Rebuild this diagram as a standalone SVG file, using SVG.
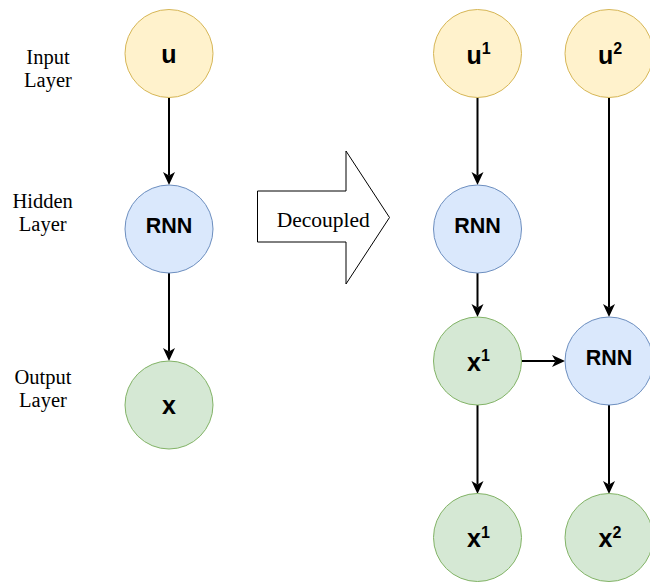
<svg xmlns="http://www.w3.org/2000/svg" width="650" height="584" viewBox="0 0 650 584">
  <style>
    .in { fill: #fff2cc; stroke: #d6b656; stroke-width: 1; }
    .hid { fill: #dae8fc; stroke: #6c8ebf; stroke-width: 1; }
    .out { fill: #d5e8d4; stroke: #82b366; stroke-width: 1; }
    .lbl { font-family: "Liberation Sans", Arial, sans-serif; font-weight: bold; fill: #000; text-anchor: middle; }
    .var { font-size: 25px; }
    .rnn { font-size: 21.5px; }
    .sup { font-size: 16px; }
    .side { font-family: "Liberation Serif", "Times New Roman", serif; font-size: 20.5px; fill: #000; text-anchor: middle; }
    .edge { stroke: #000; stroke-width: 2; fill: none; marker-end: url(#arrow); }
  </style>
  <defs>
    <marker id="arrow" markerUnits="userSpaceOnUse" markerWidth="14" markerHeight="12" refX="3.5" refY="6" orient="auto" overflow="visible">
      <path d="M0,0 L13,6 L0,12 L3.5,6 Z" fill="#000"/>
    </marker>
  </defs>

  <rect width="650" height="584" fill="#fff"/>

  <!-- layer captions -->
  <g id="caption-input">
    <text class="side" x="48" y="64">Input</text>
    <text class="side" x="48" y="86.7">Layer</text>
  </g>
  <g id="caption-hidden">
    <text class="side" x="42.7" y="208.3">Hidden</text>
    <text class="side" x="42.7" y="230.7">Layer</text>
  </g>
  <g id="caption-output">
    <text class="side" x="43" y="384">Output</text>
    <text class="side" x="43" y="406.7">Layer</text>
  </g>

  <!-- connectors -->
  <g id="connectors">
    <line class="edge" x1="169" y1="97.5" x2="169" y2="175.5"/>
    <line class="edge" x1="169" y1="273" x2="169" y2="351.5"/>
    <line class="edge" x1="477.5" y1="97.5" x2="477.5" y2="175.5"/>
    <line class="edge" x1="477.5" y1="273" x2="477.5" y2="307.5"/>
    <line class="edge" x1="477.5" y1="405" x2="477.5" y2="484.5"/>
    <line class="edge" x1="609" y1="97.5" x2="609" y2="307.5"/>
    <line class="edge" x1="609" y1="405" x2="609" y2="484.5"/>
    <line class="edge" x1="521.5" y1="361" x2="555.5" y2="361"/>
  </g>

  <!-- transformation arrow -->
  <g id="decoupled">
    <polygon points="257.5,191 346,191 346,151 389.5,217.5 346,284 346,242 257.5,242" fill="#fff" stroke="#000" stroke-width="1"/>
    <text class="side" x="323.3" y="226.7" style="font-size:21.5px">Decoupled</text>
  </g>

  <!-- left column -->
  <g id="u">
    <circle class="in" cx="169" cy="53.5" r="44"/>
    <text class="lbl var" x="169" y="62.5">u</text>
  </g>
  <g id="rnn">
    <circle class="hid" cx="169" cy="229" r="44"/>
    <text class="lbl rnn" x="169" y="233">RNN</text>
  </g>
  <g id="x">
    <circle class="out" cx="169" cy="405" r="44"/>
    <text class="lbl var" x="169" y="414">x</text>
  </g>

  <!-- right side, step 1 -->
  <g id="u1">
    <circle class="in" cx="477.5" cy="53.5" r="44"/>
    <text class="lbl var" x="478.5" y="63.5">u<tspan class="sup" dy="-9.5">1</tspan></text>
  </g>
  <g id="rnn1">
    <circle class="hid" cx="477.5" cy="229" r="44"/>
    <text class="lbl rnn" x="477.5" y="233">RNN</text>
  </g>
  <g id="x1-state">
    <circle class="out" cx="477.5" cy="361" r="44"/>
    <text class="lbl var" x="478.5" y="370.5">x<tspan class="sup" dy="-9.5">1</tspan></text>
  </g>
  <g id="x1-out">
    <circle class="out" cx="477.5" cy="537.5" r="44"/>
    <text class="lbl var" x="478.5" y="547">x<tspan class="sup" dy="-9.5">1</tspan></text>
  </g>

  <!-- right side, step 2 -->
  <g id="u2">
    <circle class="in" cx="609" cy="53.5" r="44"/>
    <text class="lbl var" x="610" y="63.5">u<tspan class="sup" dy="-9.5">2</tspan></text>
  </g>
  <g id="rnn2">
    <circle class="hid" cx="609" cy="361" r="44"/>
    <text class="lbl rnn" x="609" y="365">RNN</text>
  </g>
  <g id="x2-out">
    <circle class="out" cx="609" cy="537.5" r="44"/>
    <text class="lbl var" x="610" y="547">x<tspan class="sup" dy="-9.5">2</tspan></text>
  </g>
</svg>
